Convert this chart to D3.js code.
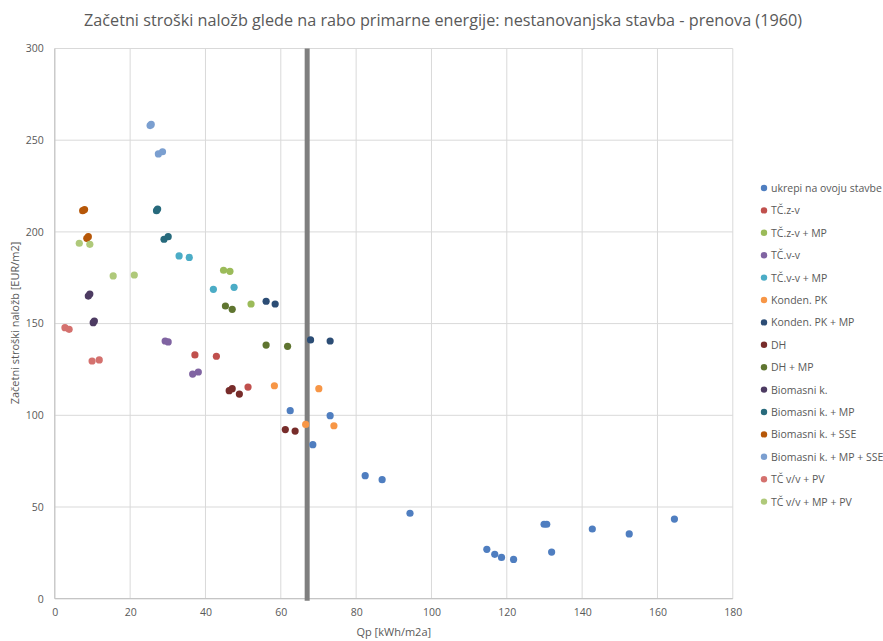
<!DOCTYPE html>
<html><head><meta charset="utf-8">
<script src="https://cdn.jsdelivr.net/npm/d3@7"></script>
<style>body{margin:0;background:#fff}svg{display:block}text{font-family:"Open Sans","Liberation Sans",sans-serif}</style>
</head><body>
<svg id="c" width="883" height="641"></svg>
<script>
const title = "Začetni stroški naložb glede na rabo primarne energije: nestanovanjska stavba - prenova (1960)";
const xTitle = "Qp [kWh/m2a]";
const yTitle = "Začetni stroški naložb [EUR/m2]";
const xTicks = [0,20,40,60,80,100,120,140,160,180];
const yTicks = [0,50,100,150,200,250,300];
const refLineX = 67;

const seriesNames = ["ukrepi na ovoju stavbe","TČ.z-v","TČ.z-v + MP","TČ.v-v","TČ.v-v + MP","Konden. PK","Konden. PK + MP","DH","DH + MP","Biomasni k.","Biomasni k. + MP","Biomasni k. + SSE","Biomasni k. + MP + SSE","TČ v/v + PV","TČ v/v + MP + PV"];
const seriesColors = ["#4F7EC0","#C0504D","#9BBB59","#8064A2","#4BACC6","#F79646","#2C4D75","#772C2A","#5F7530","#4D3B62","#276A7C","#B65708","#7B9FD0","#D4716E","#AFC97A"];

const s0 = [[62.5,102.5],[73.1,99.8],[68.5,84],[82.4,67.1],[86.9,64.9],[94.3,46.6],[114.7,26.9],[116.8,24.2],[118.6,22.5],[121.8,21.4],[129.9,40.6],[130.6,40.6],[131.9,25.4],[142.7,38.0],[152.5,35.3],[164.5,43.4]];
const s1 = [[37.2,132.9],[42.9,132.2],[51.3,115.4]];
const s2 = [[44.8,179.1],[46.5,178.5],[52.1,160.7]];
const s3 = [[29.3,140.5],[30.1,140],[36.6,122.5],[38.1,123.6]];
const s4 = [[33,186.9],[35.7,186.1],[42.1,168.7],[47.6,169.8]];
const s5 = [[58.3,116.1],[70.1,114.5],[74.1,94.3],[66.6,95.0]];
const s6 = [[56.1,162.2],[58.5,160.7],[67.9,141.1],[73.1,140.5]];
const s7 = [[46.3,113.4],[47.1,114.5],[49,111.6],[61.2,92.2],[63.8,91.4]];
const s8 = [[45.3,159.6],[47.1,157.8],[56.1,138.3],[61.8,137.6]];
const s9 = [[8.9,165],[9.3,166.1],[10.2,150.5],[10.5,151.4]];
const s10 = [[27,211.6],[27.3,212.5],[29,196],[30.1,197.4]];
const s11 = [[7.4,211.6],[7.9,212.2],[8.5,196.5],[8.9,197.4]];
const s12 = [[25.3,258],[25.6,258.6],[27.5,242.5],[28.6,243.7]];
const s13 = [[2.7,147.8],[3.8,146.9],[9.9,129.6],[11.8,130.2]];
const s14 = [[6.5,193.8],[9.3,193.2],[15.5,176],[21.1,176.5]];
const seriesData = [s0,s1,s2,s3,s4,s5,s6,s7,s8,s9,s10,s11,s12,s13,s14];

const svg = d3.select("#c");
const L = 54.8, R = 732.8, T = 48.5, B = 598.7;
const x = d3.scaleLinear().domain([0,180]).range([L,R]);
const y = d3.scaleLinear().domain([0,300]).range([B,T]);
const gray = "#595959";

// gridlines
svg.append("g").selectAll("line").data(xTicks).join("line")
  .attr("x1",d=>x(d)).attr("x2",d=>x(d)).attr("y1",T).attr("y2",B)
  .attr("stroke","#D9D9D9").attr("stroke-width",1);
svg.append("g").selectAll("line").data(yTicks).join("line")
  .attr("x1",L).attr("x2",R).attr("y1",d=>y(d)).attr("y2",d=>y(d))
  .attr("stroke","#D9D9D9").attr("stroke-width",1);
// axes lines
svg.append("line").attr("x1",L).attr("x2",L).attr("y1",T).attr("y2",B).attr("stroke","#BFBFBF");
svg.append("line").attr("x1",L).attr("x2",R).attr("y1",B).attr("y2",B).attr("stroke","#BFBFBF");

// axes via d3
const xa = svg.append("g").attr("transform",`translate(0,${B})`)
  .call(d3.axisBottom(x).tickValues(xTicks).tickSize(0).tickPadding(10));
const ya = svg.append("g").attr("transform",`translate(${L},0)`)
  .call(d3.axisLeft(y).tickValues(yTicks).tickSize(0).tickPadding(11));
[xa,ya].forEach(a=>{a.select(".domain").remove();a.selectAll("text").attr("fill",gray).style("font-size","10.5px").style("font-family","'Open Sans',sans-serif");});

// reference line
svg.append("line").attr("x1",x(refLineX)).attr("x2",x(refLineX)).attr("y1",T).attr("y2",B+2)
  .attr("stroke","#7F7F7F").attr("stroke-width",5);

// points
seriesData.forEach((data,i)=>{
  svg.append("g").selectAll("circle").data(data).join("circle")
    .attr("cx",d=>x(d[0])).attr("cy",d=>y(d[1])).attr("r",3.6)
    .attr("fill",seriesColors[i]);
});

// title
svg.append("text").attr("x",443).attr("y",26).attr("text-anchor","middle")
  .attr("fill",gray).style("font-size","15.5px").attr("textLength",718).attr("lengthAdjust","spacingAndGlyphs").text(title);
// axis titles
svg.append("text").attr("x",(L+R)/2).attr("y",636).attr("text-anchor","middle")
  .attr("fill",gray).style("font-size","11px").text(xTitle);
svg.append("text").attr("transform","translate(19,323) rotate(-90)").attr("text-anchor","middle")
  .attr("fill",gray).style("font-size","11px").text(yTitle);

// legend
const lg = svg.append("g");
seriesNames.forEach((n,i)=>{
  const yy = 188 + i*22.4;
  lg.append("circle").attr("cx",764).attr("cy",yy).attr("r",3.2).attr("fill",seriesColors[i]);
  lg.append("text").attr("x",771).attr("y",yy+4).attr("fill",gray).style("font-size","10.5px").text(n);
});
</script>
</body></html>
